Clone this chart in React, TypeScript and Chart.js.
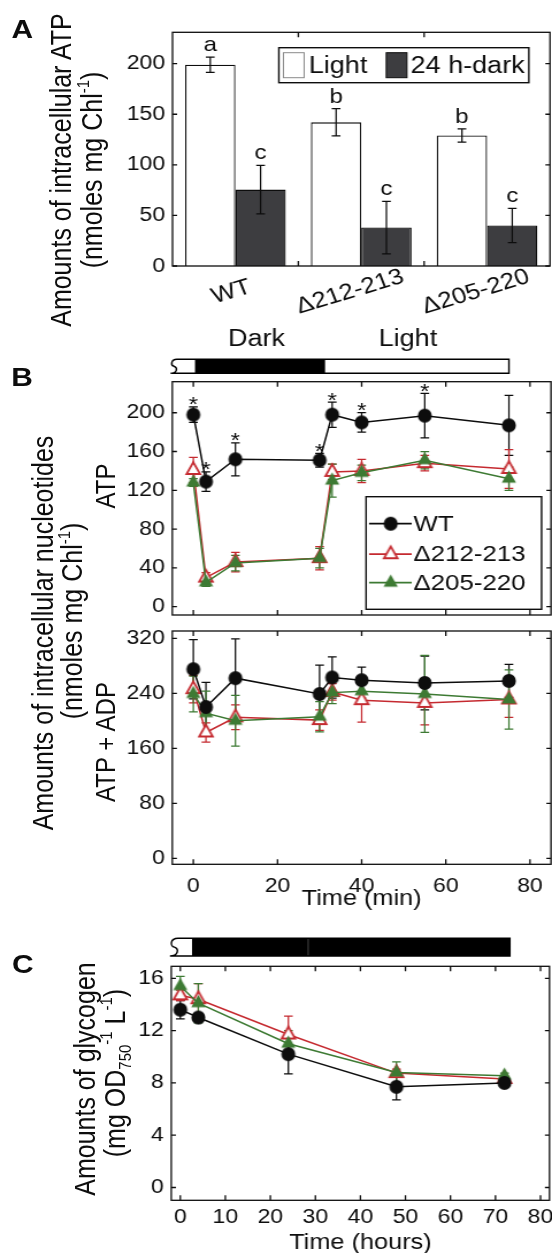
import React, { useEffect, useRef } from 'react';
import { Chart, registerables } from 'chart.js';

Chart.register(...registerables);

// ================= DATA =================
// Panel A : intracellular ATP, light vs 24 h dark
const strainLabels = ['WT', 'Δ212-213', 'Δ205-220'];
const atpLight = [199, 142, 129];
const atpLightErr = [7.5, 13.5, 6.5];
const atpDark = [75.5, 38, 40];
const atpDarkErr = [24, 26, 17];
const lettersLight = ['a', 'b', 'b'];
const lettersDark = ['c', 'c', 'c'];
const ticksA = [0, 50, 100, 150, 200];

// Panel B : nucleotides over a dark -> light shift (minutes)
const timeMin = [0, 3, 10, 30, 33, 40, 55, 75];
const atpWT = [198, 129, 152, 151, 198, 190, 197, 187];
const atpWTErr = [8, 10, 17, 7, 13, 10, 23, 31];
const atpWTStars = ['*', '*', '*', '*', '*', '*', '*', ''];
const atpD212 = [141, 30, 46, 50, 139, 140, 148, 142];
const atpD212Err = [13, 5, 10, 12, 8, 12, 8, 20];
const atpD205 = [128, 25, 45, 50, 130, 138, 151, 132];
const atpD205Err = [4, 4, 8, 10, 17, 8, 9, 12];
const totWT = [275, 220, 262, 239, 263, 259, 255, 258];
const totWTErr = [43, 36, 57, 42, 30, 19, 39, 24];
const totD212 = [246, 183, 205, 201, 242, 230, 226, 231];
const totD212Err = [20, 14, 18, 15, 12, 32, 32, 26];
const totD205 = [239, 211, 200, 206, 241, 243, 239, 231];
const totD205Err = [26, 32, 37, 22, 16, 10, 56, 43];
const ticksATP = [0, 40, 80, 120, 160, 200];
const ticksTot = [0, 80, 160, 240, 320];
const ticksMin = [0, 20, 40, 60, 80];

// Panel C : glycogen in darkness (hours)
const timeHours = [0, 4, 24, 48, 72];
const glyWT = [13.6, 13.0, 10.2, 7.7, 8.0];
const glyWTErr = [0.7, 0.3, 1.5, 1.0, 0.2];
const glyD212 = [14.7, 14.4, 11.7, 8.75, 8.3];
const glyD212Err = [0.4, 1.2, 1.4, 0.3, 0.2];
const glyD205 = [15.4, 14.1, 11.0, 8.8, 8.55];
const glyD205Err = [0.75, 1.5, 1.0, 0.8, 0.2];
const ticksGly = [0, 4, 8, 12, 16];
const ticksHours = [0, 10, 20, 30, 40, 50, 60, 70, 80];

// ================= LOOK =================
const SX = 1.15; // the figure is horizontally stretched
const CW = 480; // internal width (552 / SX)
const FONT = "'Liberation Sans', Arial, Helvetica, sans-serif";
const INK = '#0d0d0d';
const RED = '#c52a30';
const GREEN = '#3d7a33';
const BAR_DARK = '#3d3d40';
const TICK_FONT = 20;

function setTicks(values: number[]) {
  return (s: any) => {
    s.ticks = values.map((v) => ({ value: v }));
  };
}
function zeroPad(s: any) {
  s.paddingTop = 0;
  s.paddingBottom = 0;
  s.paddingLeft = 0;
  s.paddingRight = 0;
}
function fixWidth(w: number) {
  return (s: any) => {
    s.width = w;
    zeroPad(s);
  };
}
function fixHeight(h: number) {
  return (s: any) => {
    s.height = h;
    zeroPad(s);
  };
}
function yAxis(min: number, max: number, ticks: number[], leftPage: number) {
  return {
    type: 'linear',
    min,
    max,
    afterBuildTicks: setTicks(ticks),
    afterFit: fixWidth(leftPage / SX),
    grid: { display: false, drawTicks: false },
    border: { display: false },
    ticks: { color: INK, font: { size: TICK_FONT }, padding: 6.5, autoSkip: false },
  };
}
function layoutPad(rightPage: number, top: number, bottom: number, H: number, XH: number) {
  return { autoPadding: false, padding: { left: 0, right: CW - rightPage / SX, top, bottom: H - bottom - XH } };
}

function makeMarker(kind: string, r: number, fill: string, stroke: string, lw: number) {
  const w = Math.ceil((2 * (r + lw)) / SX) + 4;
  const h = Math.ceil(2 * (r + lw)) + 4;
  const c = document.createElement('canvas');
  c.width = w;
  c.height = h;
  const g = c.getContext('2d') as CanvasRenderingContext2D;
  g.translate(w / 2, h / 2);
  g.scale(1 / SX, 1);
  g.beginPath();
  if (kind === 'circle') g.arc(0, 0, r, 0, Math.PI * 2);
  else {
    const k = Math.cos(Math.PI / 6);
    g.moveTo(0, -r);
    g.lineTo(r * k, r / 2);
    g.lineTo(-r * k, r / 2);
    g.closePath();
  }
  g.fillStyle = fill;
  g.fill();
  if (lw > 0) {
    g.lineWidth = lw;
    g.strokeStyle = stroke;
    g.stroke();
  }
  return c;
}

// ================= PLUGIN DRAWING =================
function valOf(raw: any) {
  return typeof raw === 'number' ? raw : raw.y;
}

function drawErrors(chart: any, cfg: any) {
  const ctx = chart.ctx;
  const ys = chart.scales.y;
  const cap = cfg.cap;
  chart.data.datasets.forEach((ds: any, i: number) => {
    if (!ds.errors) return;
    const meta = chart.getDatasetMeta(i);
    ctx.save();
    ctx.strokeStyle = ds.borderColor;
    ctx.lineWidth = 1.25;
    meta.data.forEach((el: any, j: number) => {
      const v = valOf(ds.data[j]);
      const e = ds.errors[j];
      if (e == null) return;
      const x = el.x;
      const yt = ys.getPixelForValue(v + e);
      const yb = ys.getPixelForValue(v - e);
      ctx.beginPath();
      ctx.moveTo(x, yt);
      ctx.lineTo(x, yb);
      ctx.moveTo(x - cap, yt);
      ctx.lineTo(x + cap, yt);
      ctx.moveTo(x - cap, yb);
      ctx.lineTo(x + cap, yb);
      ctx.stroke();
    });
    ctx.restore();
  });
}

function drawMarks(chart: any, m: any) {
  const ctx = chart.ctx;
  const ys = chart.scales.y;
  ctx.save();
  ctx.font = `${m.font}px ${FONT}`;
  ctx.fillStyle = INK;
  ctx.textAlign = 'center';
  ctx.textBaseline = 'alphabetic';
  chart.data.datasets.forEach((ds: any, i: number) => {
    if (!ds.marks) return;
    const meta = chart.getDatasetMeta(i);
    meta.data.forEach((el: any, j: number) => {
      const t = ds.marks[j];
      if (!t) return;
      const top = valOf(ds.data[j]) + (ds.errors ? ds.errors[j] : 0);
      ctx.fillText(t, el.x, ys.getPixelForValue(top) + m.dy);
    });
  });
  ctx.restore();
}

function drawFrame(chart: any, cfg: any) {
  const ctx = chart.ctx;
  const { left, right, top, bottom } = chart.chartArea;
  const xs = chart.scales.x;
  const ys = chart.scales.y;
  ctx.save();
  ctx.strokeStyle = INK;
  ctx.lineWidth = 1.3;
  ctx.strokeRect(left, top, right - left, bottom - top);
  let xp: number[] = [];
  if (cfg.xBetween) {
    for (let i = 0; i < xs.ticks.length - 1; i++) xp.push((xs.getPixelForTick(i) + xs.getPixelForTick(i + 1)) / 2);
  } else xp = xs.ticks.map((t: any) => xs.getPixelForValue(t.value));
  ctx.beginPath();
  xp.forEach((p) => {
    ctx.moveTo(p, bottom);
    ctx.lineTo(p, bottom - 5);
    ctx.moveTo(p, top);
    ctx.lineTo(p, top + 5);
  });
  ys.ticks.forEach((t: any) => {
    const p = ys.getPixelForValue(t.value);
    ctx.moveTo(left, p);
    ctx.lineTo(left + 4, p);
    ctx.moveTo(right, p);
    ctx.lineTo(right - 4, p);
  });
  ctx.stroke();
  ctx.restore();
}

function drawTimeline(chart: any, t: any) {
  const ctx = chart.ctx;
  const xs = chart.scales.x;
  const ca = chart.chartArea;
  const X = (v: number) => xs.getPixelForValue(v);
  const yB = ca.top - t.gap;
  const yT = yB - t.h;
  const x0 = X(t.start);
  const x1 = X(t.end);
  const sw = t.sw;
  ctx.save();
  ctx.fillStyle = '#ffffff';
  ctx.fillRect(x0 + sw * 0.5, yT, x1 - x0 - sw * 0.5, t.h);
  ctx.fillStyle = '#000000';
  t.dark.forEach((d: number[]) => ctx.fillRect(X(d[0]), yT, X(d[1]) - X(d[0]), t.h));
  if (t.seps) {
    ctx.strokeStyle = '#555555';
    ctx.lineWidth = 0.8;
    t.seps.forEach((s: number) => {
      ctx.beginPath();
      ctx.moveTo(X(s), yT);
      ctx.lineTo(X(s), yB);
      ctx.stroke();
    });
  }
  ctx.strokeStyle = '#000000';
  ctx.lineWidth = 1.4;
  ctx.beginPath();
  ctx.moveTo(x0 + sw, yT);
  ctx.lineTo(x1, yT);
  ctx.lineTo(x1, yB);
  ctx.lineTo(x0, yB);
  ctx.moveTo(x0 + sw, yT);
  ctx.bezierCurveTo(x0, yT, x0, yT + t.h * 0.45, x0 + sw * 0.55, yT + t.h * 0.5);
  ctx.bezierCurveTo(x0 + sw * 1.15, yT + t.h * 0.6, x0 + sw * 1.05, yB, x0, yB);
  ctx.stroke();
  if (t.labels) {
    ctx.font = `${t.font}px ${FONT}`;
    ctx.fillStyle = INK;
    ctx.textAlign = 'center';
    ctx.textBaseline = 'middle';
    t.labels.forEach((l: any) => ctx.fillText(l.text, X(l.at), yT - t.labelDy));
  }
  ctx.restore();
}

function drawCatLabels(chart: any, c: any) {
  const ctx = chart.ctx;
  const xs = chart.scales.x;
  const base = chart.chartArea.bottom + c.dy;
  ctx.save();
  ctx.font = `${c.font}px ${FONT}`;
  ctx.fillStyle = INK;
  ctx.textAlign = 'center';
  ctx.textBaseline = 'middle';
  chart.data.labels.forEach((lab: string, i: number) => {
    const w = ctx.measureText(lab).width;
    ctx.save();
    ctx.translate(xs.getPixelForTick(i) - c.shift * w, base);
    ctx.rotate((c.rot * Math.PI) / 180);
    ctx.fillText(lab, 0, 0);
    ctx.restore();
  });
  ctx.restore();
}

function drawLegend(chart: any, L: any) {
  const ctx = chart.ctx;
  const ca = chart.chartArea;
  const bx = ca.right - L.right - L.w;
  const by = L.top != null ? ca.top + L.top : ca.bottom - L.bottom - L.h;
  ctx.save();
  ctx.fillStyle = '#ffffff';
  ctx.fillRect(bx, by, L.w, L.h);
  ctx.strokeStyle = INK;
  ctx.lineWidth = 1.4;
  ctx.strokeRect(bx, by, L.w, L.h);
  ctx.font = `${L.font}px ${FONT}`;
  ctx.textAlign = 'left';
  ctx.textBaseline = 'middle';
  chart.data.datasets.forEach((ds: any, i: number) => {
    if (L.kind === 'patch') {
      const it = L.items[i];
      const py = by + (L.h - L.ph) / 2;
      ctx.fillStyle = ds.backgroundColor;
      ctx.fillRect(bx + it.px, py, L.pw, L.ph);
      ctx.strokeStyle = ds.legendEdge || ds.borderColor;
      ctx.lineWidth = 1;
      ctx.strokeRect(bx + it.px, py, L.pw, L.ph);
      ctx.fillStyle = INK;
      ctx.fillText(ds.label, bx + it.tx, by + L.h / 2 + 1);
    } else {
      const y = by + L.rows[i];
      ctx.strokeStyle = ds.borderColor;
      ctx.lineWidth = 1.7;
      ctx.beginPath();
      ctx.moveTo(bx + L.l0, y);
      ctx.lineTo(bx + L.l1, y);
      ctx.stroke();
      const img = ds.pointStyle;
      ctx.drawImage(img, bx + L.mx - img.width / 2, y - img.height / 2);
      ctx.fillStyle = INK;
      ctx.fillText(ds.label, bx + L.tx, y + 1);
    }
  });
  ctx.restore();
}

function makeFig(cfg: any) {
  return {
    id: 'fig',
    beforeDatasetsDraw(chart: any) {
      if (!cfg.errorsOnTop) drawErrors(chart, cfg);
    },
    afterDatasetsDraw(chart: any) {
      if (cfg.errorsOnTop) drawErrors(chart, cfg);
      if (cfg.marks) drawMarks(chart, cfg.marks);
    },
    afterDraw(chart: any) {
      drawFrame(chart, cfg);
      if (cfg.timeline) drawTimeline(chart, cfg.timeline);
      if (cfg.catLabels) drawCatLabels(chart, cfg.catLabels);
      if (cfg.legend) drawLegend(chart, cfg.legend);
    },
  };
}

const baseOptions = {
  responsive: false,
  animation: false,
  devicePixelRatio: 1,
  events: [],
};
const noPlugins = { legend: { display: false }, tooltip: { enabled: false }, title: { display: false } };

function pts(xs: number[], ys: number[]) {
  return xs.map((x, i) => ({ x, y: ys[i] }));
}

function lineSets(mk: any, x: number[], a: number[], ae: number[], b: number[], be: number[], c: number[], ce: number[], stars?: string[]) {
  return [
    { label: 'WT', data: pts(x, a), errors: ae, marks: stars, borderColor: INK, backgroundColor: INK, borderWidth: 1.5, pointStyle: mk.wt, pointRadius: 6, tension: 0, order: 0 },
    { label: 'Δ212-213', data: pts(x, b), errors: be, borderColor: RED, backgroundColor: RED, borderWidth: 1.5, pointStyle: mk.d212, pointRadius: 6, tension: 0, order: 2 },
    { label: 'Δ205-220', data: pts(x, c), errors: ce, borderColor: GREEN, backgroundColor: GREEN, borderWidth: 1.5, pointStyle: mk.d205, pointRadius: 6, tension: 0, order: 1 },
  ];
}

function Txt(props: any) {
  const { x, y, size, bold, rot, children } = props;
  return (
    <div
      style={{
        position: 'absolute',
        left: x,
        top: y,
        transform: `translate(-50%, -50%) rotate(${rot || 0}deg)`,
        fontFamily: FONT,
        fontSize: size,
        fontWeight: bold ? 'bold' : 'normal',
        lineHeight: 1,
        whiteSpace: 'nowrap',
        color: INK,
      }}
    >
      {children}
    </div>
  );
}
const sup = (s: string) => <span style={{ fontSize: '0.6em', position: 'relative', top: '-0.75em' }}>{s}</span>;
const sub = (s: string) => <span style={{ fontSize: '0.6em', position: 'relative', top: '0.35em' }}>{s}</span>;

export default function App() {
  const refA = useRef<HTMLCanvasElement>(null);
  const refB1 = useRef<HTMLCanvasElement>(null);
  const refB2 = useRef<HTMLCanvasElement>(null);
  const refC = useRef<HTMLCanvasElement>(null);

  useEffect(() => {
    Chart.defaults.font.family = FONT;
    Chart.defaults.color = INK;
    const mk = {
      wt: makeMarker('circle', 7, INK, INK, 0),
      d212: makeMarker('triangle', 7.8, '#ffffff', RED, 2),
      d205: makeMarker('triangle', 8.2, GREEN, GREEN, 0),
    };

    // ---------- Panel A ----------
    const chartA = new Chart(refA.current as HTMLCanvasElement, {
      type: 'bar',
      data: {
        labels: strainLabels,
        datasets: [
          { label: 'Light', data: atpLight, errors: atpLightErr, marks: lettersLight, backgroundColor: '#ffffff', borderColor: INK, legendEdge: '#8a8a8a', borderWidth: 1.3, categoryPercentage: 0.8, barPercentage: 1 } as any,
          { label: '24 h-dark', data: atpDark, errors: atpDarkErr, marks: lettersDark, backgroundColor: BAR_DARK, borderColor: INK, borderWidth: 1.3, categoryPercentage: 0.8, barPercentage: 1 } as any,
        ],
      },
      options: {
        ...baseOptions,
        layout: layoutPad(550, 32.3, 266, 320, 0),
        plugins: noPlugins,
        scales: {
          x: { type: 'category', offset: true, grid: { display: false, drawTicks: false }, border: { display: false }, ticks: { display: false }, afterFit: fixHeight(0) },
          y: yAxis(0, 231, ticksA, 172.5),
        },
      } as any,
      plugins: [
        makeFig({
          errorsOnTop: true,
          cap: 3.8,
          xBetween: true,
          marks: { font: 21, dy: -6 },
          catLabels: { font: 22.5, rot: -19, dy: 26, shift: 0.1 },
          legend: { kind: 'patch', right: 18.4, top: 15.4, w: 217.4, h: 35, font: 23.5, pw: 18, ph: 25, items: [{ px: 4, tx: 26 }, { px: 93.4, tx: 114.5 }] },
        }),
      ],
    });

    // ---------- Panel B, ATP ----------
    const chartB1 = new Chart(refB1.current as HTMLCanvasElement, {
      type: 'line',
      data: { datasets: lineSets(mk, timeMin, atpWT, atpWTErr, atpD212, atpD212Err, atpD205, atpD205Err, atpWTStars) as any },
      options: {
        ...baseOptions,
        layout: layoutPad(551, 61.7, 295, 300, 0),
        plugins: noPlugins,
        scales: {
          x: { type: 'linear', min: -5, max: 85, afterBuildTicks: setTicks(ticksMin), grid: { display: false, drawTicks: false }, border: { display: false }, ticks: { display: false }, afterFit: fixHeight(0) },
          y: yAxis(-8.6, 232, ticksATP, 172.3),
        },
      } as any,
      plugins: [
        makeFig({
          cap: 3.8,
          marks: { font: 21, dy: 4.5 },
          timeline: { start: -5.4, end: 75, dark: [[0.4, 31.3]], gap: 8.4, h: 14, sw: 5.5, font: 23.5, labelDy: 19.3, labels: [{ text: 'Dark', at: 15 }, { text: 'Light', at: 51 }] },
          legend: { kind: 'line', right: 8.2, bottom: 5.7, w: 152.6, h: 112.6, font: 22.5, rows: [27, 57.5, 86], l0: 2.6, l1: 39.7, mx: 21.4, tx: 41.2 },
        }),
      ],
    });

    // ---------- Panel B, ATP + ADP ----------
    const chartB2 = new Chart(refB2.current as HTMLCanvasElement, {
      type: 'line',
      data: { datasets: lineSets(mk, timeMin, totWT, totWTErr, totD212, totD212Err, totD205, totD205Err) as any },
      options: {
        ...baseOptions,
        layout: layoutPad(551, 11, 244.3, 300, 50),
        plugins: noPlugins,
        scales: {
          x: {
            type: 'linear',
            min: -5,
            max: 85,
            afterBuildTicks: setTicks(ticksMin),
            grid: { display: false, drawTicks: false },
            border: { display: false },
            ticks: { color: INK, font: { size: TICK_FONT }, padding: 10.5, maxRotation: 0, autoSkip: false },
            title: { display: true, text: 'Time (min)', color: INK, font: { size: 22 }, padding: { top: 0, bottom: 2.6 } },
            afterFit: fixHeight(50),
          },
          y: yAxis(-8.7, 330.6, ticksTot, 172.3),
        },
      } as any,
      plugins: [makeFig({ cap: 3.8 })],
    });

    // ---------- Panel C ----------
    const chartC = new Chart(refC.current as HTMLCanvasElement, {
      type: 'line',
      data: { datasets: lineSets(mk, timeHours, glyWT, glyWTErr, glyD212, glyD212Err, glyD205, glyD205Err) as any },
      options: {
        ...baseOptions,
        layout: layoutPad(549.5, 46.3, 280.3, 340, 55),
        plugins: noPlugins,
        scales: {
          x: {
            type: 'linear',
            min: -2,
            max: 82,
            afterBuildTicks: setTicks(ticksHours),
            grid: { display: false, drawTicks: false },
            border: { display: false },
            ticks: { color: INK, font: { size: TICK_FONT }, padding: 5.3, maxRotation: 0, autoSkip: false },
            title: { display: true, text: 'Time (hours)', color: INK, font: { size: 22 }, padding: { top: 0, bottom: -0.6 } },
            afterFit: fixHeight(55),
          },
          y: yAxis(-0.98, 16.92, ticksGly, 171.3),
        },
      } as any,
      plugins: [
        makeFig({
          cap: 3.8,
          timeline: { start: -2.3, end: 73.2, dark: [[2.6, 73.2]], seps: [28.4], gap: 10.3, h: 17.7, sw: 7 },
        }),
      ],
    });

    return () => {
      chartA.destroy();
      chartB1.destroy();
      chartB2.destroy();
      chartC.destroy();
    };
  }, []);

  const cv = (top: number) => ({ position: 'absolute' as const, left: 0, top, display: 'block' });

  return (
    <div
      style={{
        position: 'absolute',
        left: 0,
        top: 0,
        width: CW,
        height: 1253,
        overflow: 'hidden',
        transform: `scaleX(${SX})`,
        transformOrigin: '0 0',
        background: '#ffffff',
      }}
    >
      <canvas ref={refA} width={CW} height={320} style={cv(0)} />
      <canvas ref={refB1} width={CW} height={300} style={cv(320)} />
      <canvas ref={refB2} width={CW} height={300} style={cv(620)} />
      <canvas ref={refC} width={CW} height={340} style={cv(920)} />

      <Txt x={19.3} y={28.5} size={26} bold>A</Txt>
      <Txt x={19.1} y={376.7} size={26} bold>B</Txt>
      <Txt x={19.9} y={964} size={26} bold>C</Txt>

      <Txt x={53.4} y={170} size={25} rot={-90}>Amounts of intracellular ATP</Txt>
      <Txt x={79.5} y={170} size={25} rot={-90}>(nmoles mg Chl{sup('-1')})</Txt>

      <Txt x={37.5} y={633} size={25} rot={-90}>Amounts of intracellular nucleotides</Txt>
      <Txt x={62.5} y={621} size={25} rot={-90}>(nmoles mg Chl{sup('-1')})</Txt>
      <Txt x={92} y={485.5} size={24} rot={-90}>ATP</Txt>
      <Txt x={92} y={741.5} size={24} rot={-90}>ATP + ADP</Txt>

      <Txt x={73.6} y={1079} size={25} rot={-90}>Amounts of glycogen</Txt>
      <Txt x={99.7} y={1073} size={25} rot={-90}>(mg OD{sub('750')}{sup('-1')} L{sup('-1')})</Txt>
    </div>
  );
}
